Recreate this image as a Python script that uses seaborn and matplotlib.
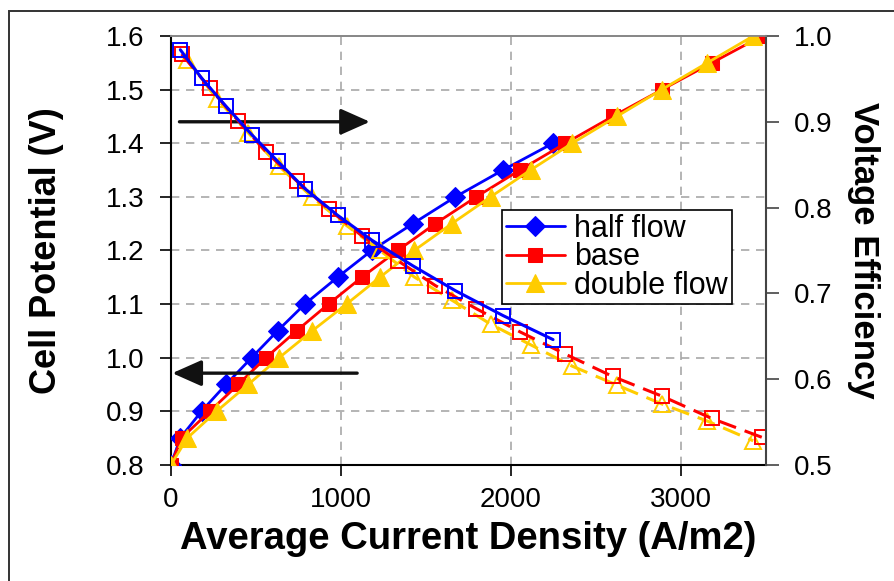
import matplotlib
matplotlib.use("Agg")
import matplotlib.pyplot as plt
from matplotlib.patches import Rectangle
import seaborn as sns
import pandas as pd

# Current density (A/m2) and cell potential (V) for each flow case
x_half = [0, 55, 180, 324, 475, 627, 788, 980, 1181, 1423, 1673, 1953, 2247]
v_half = [0.80, 0.85, 0.90, 0.95, 1.00, 1.05, 1.10, 1.15, 1.20, 1.25, 1.30, 1.35, 1.40]

x_base = [0, 63, 229, 396, 559, 739, 927, 1123, 1334, 1555, 1796, 2053, 2320,
          2598, 2888, 3181, 3476]
v_base = [0.80, 0.85, 0.90, 0.95, 1.00, 1.05, 1.10, 1.15, 1.20, 1.25, 1.30, 1.35,
          1.40, 1.45, 1.50, 1.55, 1.60]

x_double = [0, 96, 269, 455, 637, 831, 1033, 1229, 1431, 1652, 1880, 2115, 2360,
            2622, 2886, 3154, 3424]
v_double = [0.80, 0.85, 0.90, 0.95, 1.00, 1.05, 1.10, 1.15, 1.20, 1.25, 1.30, 1.35,
            1.40, 1.45, 1.50, 1.55, 1.60]

# Voltage efficiency (right axis), same current densities without the zero point
eff_half = [0.984, 0.951, 0.918, 0.885, 0.854, 0.822, 0.791, 0.762, 0.732, 0.703,
            0.674, 0.646]
eff_base = [0.979, 0.939, 0.901, 0.865, 0.831, 0.798, 0.767, 0.738, 0.709, 0.682,
            0.655, 0.629, 0.603, 0.580, 0.554, 0.532]
eff_double = [0.972, 0.927, 0.887, 0.848, 0.812, 0.779, 0.750, 0.719, 0.692, 0.664,
              0.640, 0.615, 0.593, 0.571, 0.551, 0.528]

labels = ["half flow", "base", "double flow"]
colors = ["#0000FF", "#FF0000", "#FFCC00"]

x_ticks = [0, 1000, 2000, 3000]
v_ticks = [0.8, 0.9, 1.0, 1.1, 1.2, 1.3, 1.4, 1.5, 1.6]
eff_ticks = [0.5, 0.6, 0.7, 0.8, 0.9, 1.0]

sns.set_theme(style="white")
plt.rcParams["font.family"] = ["Liberation Sans", "DejaVu Sans"]
plt.rcParams.update({"text.color": "black", "axes.labelcolor": "black",
                     "xtick.color": "black", "ytick.color": "black"})

fig = plt.figure(figsize=(8.95, 5.81), dpi=100)
ax = fig.add_axes([0.191, 0.2, 0.665, 0.738])
ax2 = ax.twinx()

# outer frame of the figure
fig.patches.append(Rectangle((9 / 895, -0.05), 1.2, 1 - 11 / 581 + 0.05,
                             transform=fig.transFigure, fill=False,
                             edgecolor="#333333", lw=1.4, zorder=0))

# cell potential curves (filled markers, left axis)
handles = []
pot = [(x_half, v_half, "D", 10), (x_base, v_base, "s", 9.5), (x_double, v_double, "^", 13)]
for (xs, vs, mk, ms), lab, col in zip(pot, labels, colors):
    df = pd.DataFrame({"x": xs, "y": vs})
    sns.lineplot(data=df, x="x", y="y", ax=ax, color=col, marker=mk, markersize=ms,
                 markeredgecolor=col, markerfacecolor=col, lw=2.0, sort=False,
                 estimator=None, legend=False, zorder=3)
    handles.append(ax.lines[-1])

# voltage efficiency curves (open markers, right axis)
effs = [(x_double[1:], eff_double, "^", 11, (6, 3)),
        (x_base[1:], eff_base, "s", 10, (6, 3)),
        (x_half[1:], eff_half, "s", 10, None)]
for (xs, es, mk, ms, dash), col in zip(effs, colors[::-1]):
    df = pd.DataFrame({"x": xs, "y": es})
    kws = dict(color=col, marker=mk, markersize=ms, markeredgecolor=col,
               markerfacecolor="none", markeredgewidth=1.4, lw=2.2, sort=False,
               estimator=None, legend=False)
    sns.lineplot(data=df, x="x", y="y", ax=ax2, **kws)
    if dash is not None:
        ax2.lines[-1].set_dashes(dash)

# axes limits and ticks
ax.set_xlim(0, 3500)
ax.set_ylim(0.8, 1.6)
ax2.set_ylim(0.5, 1.0)
ax.set_xticks(x_ticks)
ax.set_yticks(v_ticks)
ax2.set_yticks(eff_ticks)
ax.set_xticklabels([str(t) for t in x_ticks])
ax.set_yticklabels([f"{t:.1f}" for t in v_ticks])
ax2.set_yticklabels([f"{t:.1f}" for t in eff_ticks])

ax.tick_params(axis="both", which="major", labelsize=20, direction="out", length=8,
               width=1.2, color="black", left=True, bottom=True, pad=8)
ax.tick_params(axis="y", pad=11)
ax2.tick_params(axis="y", labelsize=20, direction="out", length=9, width=1.2,
                color="#444444", right=True, pad=11)

ax.grid(True, axis="both", color="#A8A8A8", linestyle=(0, (5, 4)), lw=1.2)
ax.set_axisbelow(True)

for sp in ["left", "bottom"]:
    ax.spines[sp].set_color("black")
    ax.spines[sp].set_linewidth(1.5)
ax.spines["top"].set_color("#888888")
ax.spines["right"].set_visible(False)
ax2.spines["right"].set_color("#444444")
ax2.spines["right"].set_linewidth(1.5)
ax2.spines["top"].set_color("#888888")
ax2.spines["left"].set_visible(False)
ax2.spines["bottom"].set_visible(False)

ax.set_xlabel("Average Current Density (A/m2)", fontsize=27.5, fontweight="bold",
              labelpad=6)
ax.set_ylabel("Cell Potential (V)", fontsize=26, fontweight="bold", labelpad=30)
ax2.set_ylabel("Voltage Efficiency", fontsize=25, fontweight="bold", rotation=270,
               labelpad=34)

# direction arrows pointing to the matching axis
ax.annotate("", xy=(1170, 1.44), xytext=(50, 1.44),
            arrowprops=dict(arrowstyle="-|>,head_length=0.9,head_width=0.4",
                            lw=2.4, color="#111111", shrinkA=0, shrinkB=0,
                            mutation_scale=20), zorder=5)
ax.annotate("", xy=(8, 0.971), xytext=(1095, 0.971),
            arrowprops=dict(arrowstyle="-|>,head_length=0.9,head_width=0.4",
                            lw=2.4, color="#111111", shrinkA=0, shrinkB=0,
                            mutation_scale=20), zorder=5)

leg = ax2.legend(handles, labels, loc="upper left", bbox_to_anchor=(0.556, 0.594),
                 fontsize=22, frameon=True, fancybox=False, edgecolor="black",
                 framealpha=1, labelspacing=-0.05, handlelength=1.95,
                 handletextpad=0.3, borderpad=0.12, borderaxespad=0)
leg.get_frame().set_linewidth(1.2)

fig.savefig("out.png", dpi=100)
